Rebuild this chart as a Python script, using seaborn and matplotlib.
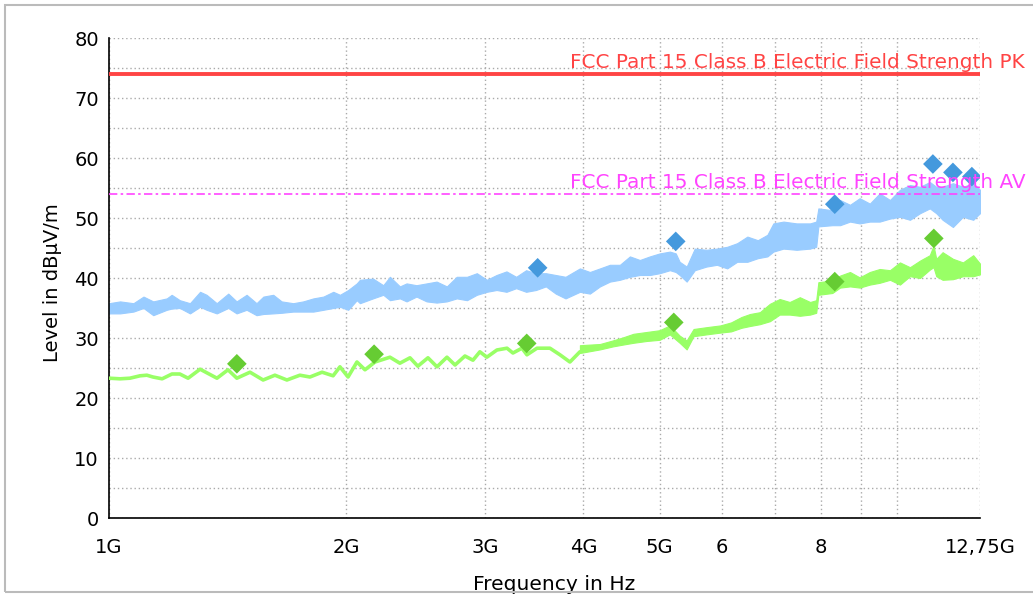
import matplotlib
matplotlib.use("Agg")
import matplotlib.pyplot as plt
import matplotlib.ticker as mticker
from matplotlib.patches import Rectangle
import seaborn as sns
import pandas as pd

# peak trace, read as a lower / upper envelope (GHz, dBuV/m)
pk_freq = [1.000, 1.033, 1.074, 1.106, 1.138, 1.184, 1.201, 1.230, 1.267, 1.305,
           1.330, 1.370, 1.417, 1.452, 1.495, 1.539, 1.570, 1.616, 1.656, 1.713,
           1.764, 1.817, 1.871, 1.926, 1.964, 2.012, 2.063, 2.082, 2.163, 2.229,
           2.273, 2.340, 2.386, 2.456, 2.530, 2.605, 2.684, 2.763, 2.847, 2.930,
           3.017, 3.104, 3.195, 3.287, 3.384, 3.483, 3.585, 3.690, 3.797, 3.960,
           4.077, 4.199, 4.323, 4.451, 4.583, 4.718, 4.858, 5.001, 5.151, 5.24,
           5.30, 5.41, 5.54, 5.73, 5.91, 6.09, 6.27, 6.46, 6.66, 6.85,
           6.97, 7.18, 7.46, 7.76, 7.90, 7.95, 8.28, 8.47, 8.72, 8.97,
           9.24, 9.51, 9.80, 10.09, 10.39, 10.70, 11.01, 11.22, 11.43, 11.78,
           12.13, 12.50, 12.75]
pk_lo = [34.1, 34.1, 34.4, 35.0, 33.8, 34.7, 34.9, 35.0, 34.1, 35.2,
         34.7, 34.1, 35.0, 34.1, 34.7, 33.8, 34.0, 34.1, 34.2, 34.4,
         34.4, 34.4, 34.7, 35.0, 35.2, 34.7, 36.3, 35.8, 36.6, 37.2,
         36.3, 36.6, 36.1, 36.9, 36.1, 35.9, 36.1, 36.6, 36.3, 37.2,
         37.7, 38.0, 37.7, 38.3, 37.7, 38.0, 38.6, 37.4, 36.6, 37.7,
         37.4, 38.6, 39.4, 39.7, 40.2, 40.5, 40.5, 40.8, 41.3, 41.0,
         40.5, 39.4, 41.3, 41.9, 42.2, 41.6, 42.7, 42.7, 43.3, 43.6,
         44.4, 44.9, 44.7, 44.9, 45.2, 48.6, 48.8, 48.8, 49.4, 49.1,
         49.4, 49.4, 49.9, 50.2, 49.7, 50.8, 51.6, 50.8, 49.7, 48.5,
         50.2, 49.7, 50.8]
pk_hi = [35.8, 36.1, 35.8, 36.9, 36.1, 36.6, 37.2, 36.3, 35.8, 37.7,
         37.2, 35.8, 37.4, 36.1, 37.2, 35.8, 36.9, 37.2, 36.1, 35.8,
         36.1, 36.6, 36.9, 37.7, 37.2, 38.0, 39.1, 39.7, 39.9, 38.8,
         40.2, 38.6, 39.1, 38.8, 39.1, 39.4, 38.6, 40.2, 40.2, 40.8,
         39.7, 40.5, 41.1, 40.2, 41.3, 40.8, 40.8, 40.5, 40.2, 41.6,
         41.0, 41.6, 42.2, 42.2, 43.6, 43.0, 43.6, 44.1, 44.4, 44.1,
         42.7, 41.9, 44.9, 44.7, 44.9, 45.2, 45.8, 46.9, 46.3, 47.2,
         49.1, 49.4, 49.1, 49.1, 49.4, 51.6, 51.3, 53.0, 52.2, 53.3,
         52.4, 54.1, 53.0, 54.7, 55.5, 55.2, 56.0, 55.2, 55.2, 55.8,
         55.2, 55.8, 54.7]

# average trace centre line
avg_freq = [1.00, 1.033, 1.063, 1.095, 1.117, 1.137, 1.168, 1.202, 1.230, 1.260,
            1.305, 1.331, 1.371, 1.416, 1.453, 1.510, 1.569, 1.624, 1.682, 1.747,
            1.799, 1.864, 1.925, 1.964, 2.011, 2.064, 2.113, 2.176, 2.273, 2.340,
            2.410, 2.466, 2.540, 2.608, 2.685, 2.749, 2.830, 2.897, 2.956, 3.017,
            3.107, 3.200, 3.256, 3.343, 3.392, 3.493, 3.628, 3.736, 3.846, 3.960]
avg_level = [23.3, 23.2, 23.3, 23.7, 23.8, 23.5, 23.2, 24.0, 24.0, 23.3,
             24.8, 24.2, 23.3, 24.7, 23.3, 24.3, 23.0, 23.8, 23.0, 23.8,
             23.5, 24.3, 23.7, 25.2, 23.5, 26.0, 24.7, 26.0, 26.8, 25.8,
             26.7, 25.3, 26.7, 25.2, 26.8, 25.5, 27.0, 26.3, 27.7, 26.8,
             28.0, 28.3, 27.5, 28.3, 27.2, 28.3, 28.3, 27.2, 26.0, 27.7]

# noisy upper part of the average trace, lower / upper envelope
avg_band_freq = [3.960, 4.199, 4.361, 4.49, 4.63, 4.81, 5.00, 5.15, 5.30, 5.41,
                 5.52, 5.73, 5.97, 6.16, 6.35, 6.51, 6.70, 6.90, 7.10, 7.31,
                 7.53, 7.76, 7.90, 7.95, 8.28, 8.47, 8.72, 8.97, 9.24, 9.51,
                 9.80, 10.09, 10.39, 10.70, 11.01, 11.13, 11.22, 11.43, 11.78, 12.13,
                 12.50, 12.75]
avg_band_lo = [27.5, 28.1, 28.6, 28.9, 29.2, 29.5, 29.7, 30.6, 29.2, 28.1,
               30.3, 30.6, 30.9, 31.1, 31.7, 32.0, 32.3, 32.8, 33.9, 33.9,
               33.7, 33.9, 34.2, 37.2, 37.5, 38.4, 38.6, 38.4, 38.9, 39.2,
               39.7, 38.9, 40.3, 40.0, 41.4, 41.8, 40.3, 39.7, 39.8, 40.3,
               40.3, 40.6]
avg_band_hi = [28.8, 29.0, 29.6, 30.1, 30.7, 31.0, 31.3, 32.1, 30.4, 29.6,
               31.5, 31.8, 32.1, 32.6, 33.5, 34.0, 34.3, 35.7, 36.5, 36.0,
               36.8, 36.0, 36.3, 39.3, 39.6, 40.4, 41.0, 40.1, 41.0, 41.5,
               41.3, 42.6, 41.8, 42.9, 43.8, 45.4, 43.2, 44.3, 43.2, 42.6,
               43.8, 42.4]

# final measurement markers
pk_mark_freq = [3.50, 5.24, 8.34, 11.11, 11.78, 12.45]
pk_mark_level = [41.7, 46.1, 52.3, 59.0, 57.6, 56.9]
avg_mark_freq = [1.453, 2.17, 3.39, 5.21, 8.34, 11.14]
avg_mark_level = [25.7, 27.3, 29.1, 32.6, 39.4, 46.6]

limit_pk = 74
limit_av = 54
limit_pk_label = "FCC Part 15 Class B Electric Field Strength PK"
limit_av_label = "FCC Part 15 Class B Electric Field Strength AV"

xtick_pos = [1, 2, 3, 4, 5, 6, 7, 8, 9, 10, 12.75]
xtick_labels = ["1G", "2G", "3G", "4G", "5G", "6", "", "8", "", "", "12,75G"]

PK_TRACE = "#99ccff"
AV_TRACE = "#99ff66"
PK_MARK = "#4499dd"
AV_MARK = "#66cc33"
PK_LIMIT = "#ff4444"
AV_LIMIT = "#ff44ff"

sns.set_style("white")
plt.rcParams['font.family'] = ['DejaVu Sans']
plt.rcParams['font.size'] = 14
plt.rcParams['text.color'] = 'black'
plt.rcParams['axes.labelcolor'] = 'black'
plt.rcParams['xtick.color'] = 'black'
plt.rcParams['ytick.color'] = 'black'

fig = plt.figure(figsize=(10.33, 5.94), dpi=100)
ax = fig.add_axes([109 / 1033, 1 - 518 / 594, 871 / 1033, 480 / 594])
ax.set_axisbelow(True)

fig.add_artist(Rectangle((5 / 1033, 1 - 592 / 594), 1.0, 587 / 594,
                         transform=fig.transFigure, fill=False,
                         edgecolor="#bbbbbb", lw=1.5, clip_on=False))

# peak trace
ax.fill_between(pk_freq, pk_lo, pk_hi, color=PK_TRACE, lw=0.8, zorder=2)

# average trace
ax.fill_between(avg_band_freq, avg_band_lo, avg_band_hi, color=AV_TRACE,
                lw=0.8, zorder=2)
avg_df = pd.DataFrame({"freq": avg_freq, "level": avg_level})
sns.lineplot(data=avg_df, x="freq", y="level", color=AV_TRACE, lw=2.6,
             ax=ax, zorder=3)

# limits
ax.axhline(limit_pk, color=PK_LIMIT, lw=2.8, zorder=4)
ax.axhline(limit_av, color=AV_LIMIT, lw=1.2, ls=(0, (5, 2, 1.5, 2)), zorder=4)

# markers
pk_df = pd.DataFrame({"freq": pk_mark_freq, "level": pk_mark_level})
av_df = pd.DataFrame({"freq": avg_mark_freq, "level": avg_mark_level})
sns.scatterplot(data=pk_df, x="freq", y="level", marker="D", s=100,
                color=PK_MARK, edgecolor="none", ax=ax, zorder=5)
sns.scatterplot(data=av_df, x="freq", y="level", marker="D", s=100,
                color=AV_MARK, edgecolor="none", ax=ax, zorder=5)

ax.text(3.85, limit_pk + 0.95, limit_pk_label, color=PK_LIMIT, fontsize=14.4,
        va="baseline", clip_on=False, zorder=6)
ax.text(3.85, limit_av + 1.05, limit_av_label, color=AV_LIMIT, fontsize=14.4,
        va="baseline", clip_on=False, zorder=6)

ax.set_xscale("log")
ax.set_xlim(1, 12.75)
ax.set_ylim(0, 80)
ax.xaxis.set_major_locator(mticker.FixedLocator(xtick_pos))
ax.xaxis.set_major_formatter(mticker.FixedFormatter(xtick_labels))
ax.xaxis.set_minor_locator(mticker.NullLocator())
ax.yaxis.set_major_locator(mticker.MultipleLocator(10))
ax.yaxis.set_minor_locator(mticker.MultipleLocator(5))

ax.grid(True, axis="y", which="both", color="#aaaaaa", lw=1.0, ls=(0, (1, 2)))
ax.grid(True, axis="x", which="major", color="#aaaaaa", lw=1.0, ls=(0, (1, 2)))

for side in ["top", "right"]:
    ax.spines[side].set_visible(False)
for side in ["left", "bottom"]:
    ax.spines[side].set_color("black")
    ax.spines[side].set_linewidth(1.2)

ax.tick_params(axis="both", which="both", direction="inout", length=8.5,
               width=1.1, color="black", labelsize=14, labelcolor="black")
ax.tick_params(axis="y", pad=3)
ax.tick_params(axis="x", pad=10)

ax.set_xlabel("Frequency in Hz", fontsize=14.6)
ax.set_ylabel("Level in dBµV/m", fontsize=14)
ax.xaxis.set_label_coords(0.511, -0.118)
ax.yaxis.set_label_coords(-0.054, 0.49)

fig.savefig("out.png", dpi=100)
plt.close(fig)
